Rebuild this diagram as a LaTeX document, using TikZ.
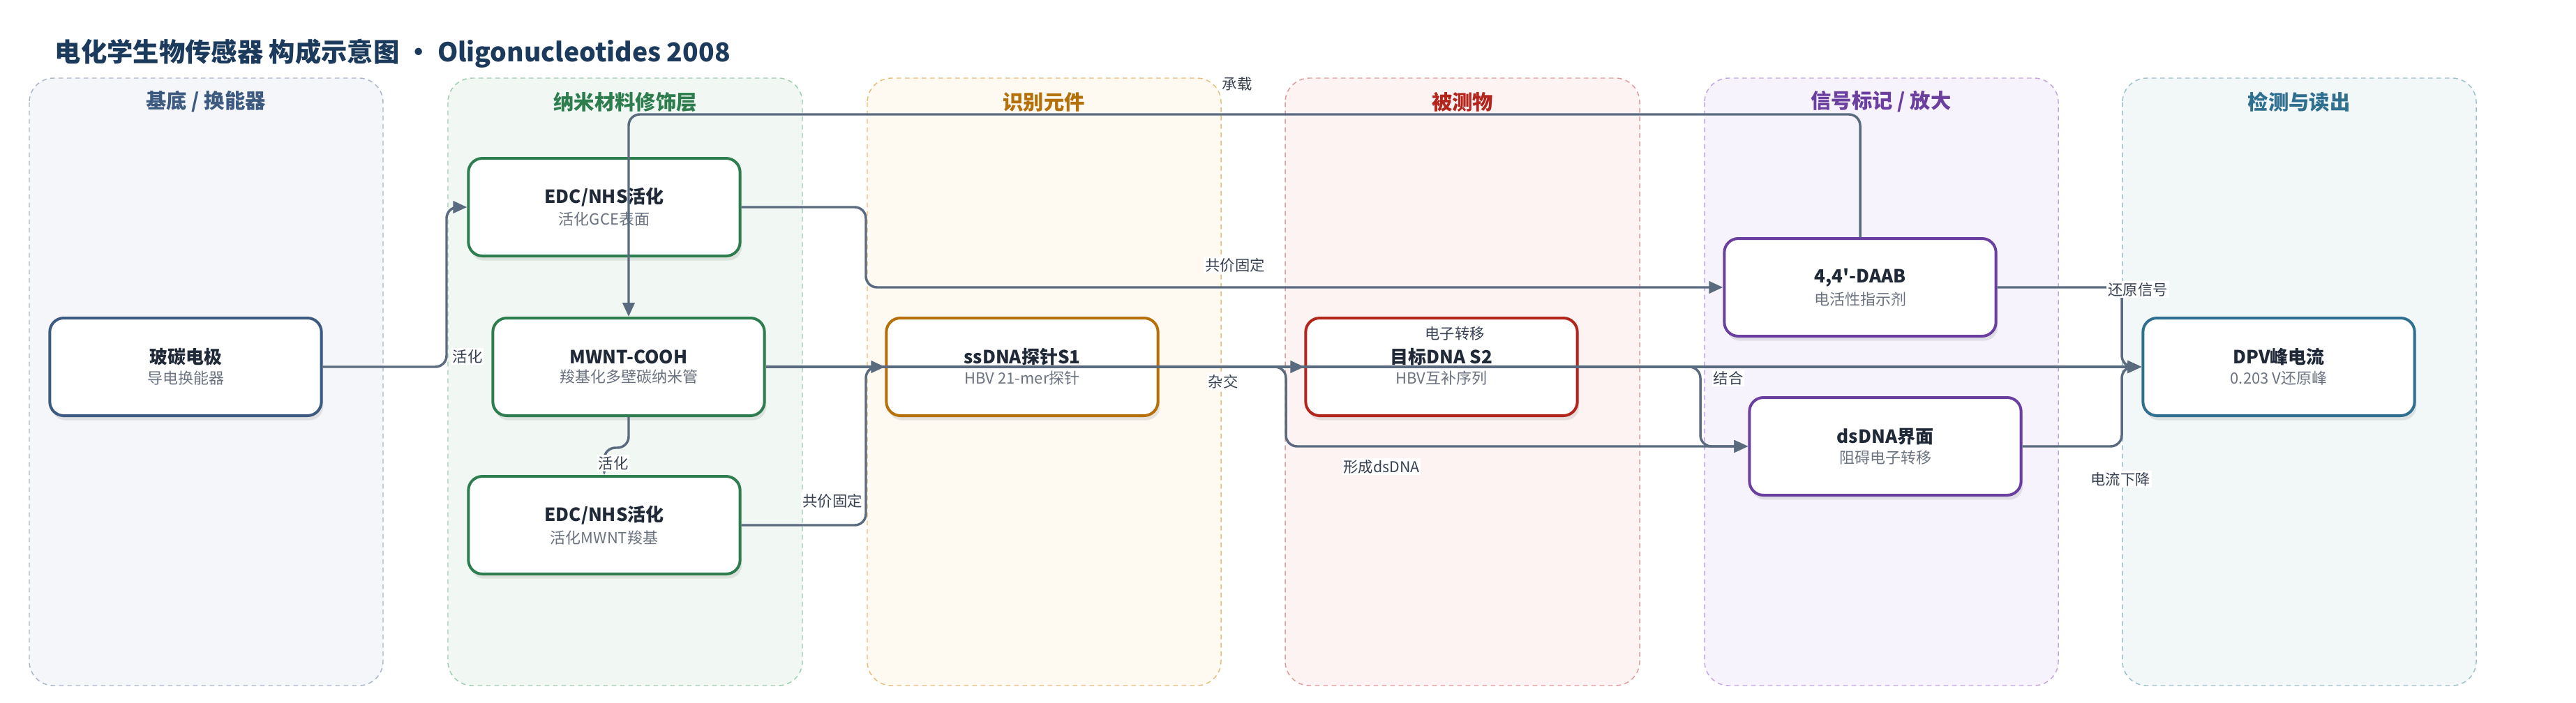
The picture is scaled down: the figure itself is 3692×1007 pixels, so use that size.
\documentclass[tikz,border=0pt]{standalone}
\usepackage{fontspec}
\setmainfont{Noto Sans CJK SC}
\newfontfamily\plainfont{Noto Sans CJK SC}
\usepackage{xcolor}
\usepackage{tikz}
\usetikzlibrary{calc,arrows.meta,shadows}
\definecolor{ink}{HTML}{1F2937}
\definecolor{subtext}{HTML}{6B7280}
\definecolor{heading}{HTML}{1B3A5C}
\definecolor{wire}{HTML}{5A6B80}
\definecolor{wiretext}{HTML}{374151}
% lane colours
\definecolor{baseFill}{HTML}{F5F6FA}\definecolor{baseLine}{HTML}{A9B6C9}\definecolor{baseInk}{HTML}{3D5A80}
\definecolor{nanoFill}{HTML}{F1F8F3}\definecolor{nanoLine}{HTML}{9ECDB0}\definecolor{nanoInk}{HTML}{2E7D4F}
\definecolor{recFill}{HTML}{FEF9F1}\definecolor{recLine}{HTML}{E6BE7A}\definecolor{recInk}{HTML}{B5700A}
\definecolor{anaFill}{HTML}{FDF3F3}\definecolor{anaLine}{HTML}{E09A9A}\definecolor{anaInk}{HTML}{B3261E}
\definecolor{sigFill}{HTML}{F7F3FC}\definecolor{sigLine}{HTML}{C3A6E0}\definecolor{sigInk}{HTML}{6B3FA0}
\definecolor{detFill}{HTML}{F2F7F8}\definecolor{detLine}{HTML}{9CC0CC}\definecolor{detInk}{HTML}{2F6F8F}
\newcommand{\boxtext}[2]{{\fontsize{19.5}{23}\selectfont\bfseries\color{ink}#1}\\[5pt]{\fontsize{16.5}{20}\selectfont\color{subtext}#2}}
\tikzset{
  lane/.style={draw=#1, dash pattern=on 5pt off 4pt, line width=1.1pt, rounded corners=26pt},
  lanehead/.style={font=\fontsize{22}{26}\selectfont\bfseries},
  box/.style={draw=#1, fill=white, line width=3pt, rounded corners=15pt,
    minimum width=292pt, minimum height=105pt, align=center,
    drop shadow={shadow xshift=2pt, shadow yshift=-5pt, opacity=0.15, fill=black!60}},
  link/.style={draw=wire, line width=2.6pt, rounded corners=12pt,
    -{Triangle[length=15pt,width=13pt]}},
  lbl/.style={fill=white, inner sep=1.5pt, text=wiretext, font=\fontsize{16}{19}\selectfont}
}

\begin{document}
\begin{tikzpicture}[x=0.75pt, y=-0.75pt]
  \useasboundingbox (0,0) rectangle (3692,1007);

  \node[anchor=west, text=heading, font=\fontsize{28}{32}\selectfont\bfseries] (title) at (74,77)
    {电化学生物传感器 构成示意图 • Oligonucleotides 2008};

  % lanes
  \draw[lane=baseLine, fill=baseFill] (42,112) rectangle (549,983);
  \draw[lane=nanoLine, fill=nanoFill] (642,112) rectangle (1150,983);
  \draw[lane=recLine, fill=recFill] (1243,112) rectangle (1750,983);
  \draw[lane=anaLine, fill=anaFill] (1842,112) rectangle (2350,983);
  \draw[lane=sigLine, fill=sigFill] (2443,112) rectangle (2950,983);
  \draw[lane=detLine, fill=detFill] (3042,112) rectangle (3549,983);
  \node[lanehead, text=baseInk] (hBase) at (295,146) {基底 / 换能器};
  \node[lanehead, text=nanoInk] (hNano) at (896,146) {纳米材料修饰层};
  \node[lanehead, text=recInk] (hRec) at (1496,146) {识别元件};
  \node[lanehead, text=anaInk] (hAna) at (2096,146) {被测物};
  \node[lanehead, text=sigInk] (hSig) at (2696,146) {信号标记 / 放大};
  \node[lanehead, text=detInk] (hDet) at (3295,146) {检测与读出};

  % components
  \node[box=baseInk] (gce) at (266,526) {\boxtext{玻碳电极}{导电换能器}};
  \node[box=nanoInk] (edcA) at (866,297) {\boxtext{EDC/NHS活化}{活化GCE表面}};
  \node[box=nanoInk] (mwnt) at (901,526) {\boxtext{MWNT-COOH}{羧基化多壁碳纳米管}};
  \node[box=nanoInk] (edcB) at (866,753) {\boxtext{EDC/NHS活化}{活化MWNT羧基}};
  \node[box=recInk] (probe) at (1465,526) {\boxtext{ssDNA探针S1}{HBV 21-mer探针}};
  \node[box=anaInk] (target) at (2066,526) {\boxtext{目标DNA S2}{HBV互补序列}};
  \node[box=sigInk] (daab) at (2666,412) {\boxtext{4,4{\plainfont\bfseries '}-DAAB}{电活性指示剂}};
  \node[box=sigInk] (dsdna) at (2702,640) {\boxtext{dsDNA界面}{阻碍电子转移}};
  \node[box=detInk] (dpv) at (3266,526) {\boxtext{DPV峰电流}{0.203 V还原峰}};

  % bend columns
  \coordinate (bus) at (0,164);
  \coordinate (colA) at (640,0);
  \coordinate (colB) at (1241,0);
  \coordinate (colC) at (1843,0);
  \coordinate (colD) at (2437,0);
  \coordinate (colE) at (3041,0);

  % connectors
  \draw[link] (gce.east) -- (gce.east -| colA) |- (edcA.west);
  \draw[link] (daab.north) -- (daab.north |- bus) -| (mwnt.north);
  \draw[link] (mwnt.south) -- ++(0,44) -| (edcB.north);
  \draw[link] (edcB.east) -- (edcB.east -| colB) |- (probe.west);
  \draw[link] (edcA.east) -- (edcA.east -| colB) |- (daab.west);
  \draw[link] (mwnt.east) -- (dpv.west);
  \draw[link] (probe.east) -- (target.west);
  \draw[link] (probe.east) -- (probe.east -| colC) |- (dsdna.west);
  \draw[link] (target.east) -- (target.east -| colD) |- (dsdna.west);
  \draw[link] (daab.east) -- (daab.east -| colE) |- (dpv.west);
  \draw[link] (dsdna.east) -- (dsdna.east -| colE) |- (dpv.west);

  % connector labels
  \node[lbl] (lActA) at (670,511) {活化};
  \node[lbl] (lCarry) at (1773,120) {承载};
  \node[lbl] (lActB) at (879,664) {活化};
  \node[lbl] (lFixB) at (1193,718) {共价固定};
  \node[lbl] (lFixA) at (1770,380) {共价固定};
  \node[lbl] (lElec) at (2085,478) {电子转移};
  \node[lbl] (lHyb) at (1753,547) {杂交};
  \node[lbl] (lDs) at (1980,669) {形成dsDNA};
  \node[lbl] (lBind) at (2477,542) {结合};
  \node[lbl] (lRed) at (3064,415) {还原信号};
  \node[lbl] (lDrop) at (3039,687) {电流下降};
\end{tikzpicture}
\end{document}
